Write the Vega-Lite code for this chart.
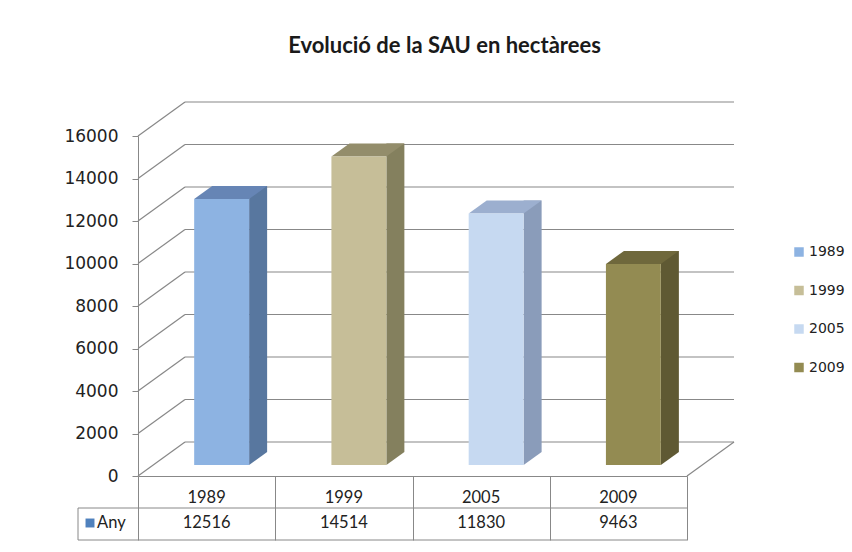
{
  "$schema": "https://vega.github.io/schema/vega-lite/v6.json",
  "width": 549,
  "height": 340,
  "autosize": {"type": "none"},
  "padding": {"left": 138, "top": 136, "right": 165, "bottom": 76},
  "background": "white",
  "config": {"view": {"stroke": null}, "font": "Lato"},
  "title": {"text": "Evolució de la SAU en hectàrees", "font": "Lato", "fontSize": 22, "fontWeight": "bold", "color": "#1a1a1a", "anchor": "middle", "dx": 32, "offset": 43},
  "datasets": {
    "sau": [
      {"year": "1989", "ha": 12516},
      {"year": "1999", "ha": 14514},
      {"year": "2005", "ha": 11830},
      {"year": "2009", "ha": 9463}
    ],
    "ticks": [
      {"v": 0}, {"v": 2000}, {"v": 4000}, {"v": 6000}, {"v": 8000},
      {"v": 10000}, {"v": 12000}, {"v": 14000}, {"v": 16000}
    ]
  },
  "resolve": {"scale": {"color": "independent"}},
  "layer": [
    {
      "data": {"name": "ticks"},
      "mark": {"type": "rule", "color": "#888888", "strokeWidth": 1.2, "xOffset": 47, "x2Offset": 47, "yOffset": -34, "y2Offset": -34},
      "encoding": {
        "x": {"datum": "1989", "type": "nominal", "bandPosition": 0},
        "x2": {"datum": "2009", "bandPosition": 1},
        "y": {
          "field": "v", "type": "quantitative",
          "scale": {"domain": [0, 16000], "nice": false, "zero": true},
          "axis": {"values": [0, 2000, 4000, 6000, 8000, 10000, 12000, 14000, 16000], "grid": false, "format": "d", "title": null, "domainColor": "#888888", "tickColor": "#888888", "tickSize": 6, "labelPadding": 14, "labelFont": "DejaVu Sans", "labelFontSize": 17, "labelColor": "#222222"}
        },
        "y2": {"field": "v"}
      }
    },
    {
      "data": {"name": "ticks"},
      "mark": {"type": "rule", "color": "#888888", "strokeWidth": 1.2, "x2Offset": 47, "y2Offset": -34},
      "encoding": {
        "x": {"datum": "1989", "type": "nominal", "bandPosition": 0},
        "x2": {"datum": "1989", "bandPosition": 0},
        "y": {"field": "v", "type": "quantitative"},
        "y2": {"field": "v"}
      }
    },
    {
      "data": {"name": "sau"},
      "transform": [{"filter": "datum.year == '2009'"}],
      "mark": {"type": "rule", "color": "#888888", "strokeWidth": 1.2, "x2Offset": 47, "y2Offset": -34},
      "encoding": {
        "x": {"datum": "2009", "type": "nominal", "bandPosition": 1},
        "x2": {"datum": "2009", "bandPosition": 1},
        "y": {"datum": 0, "type": "quantitative"},
        "y2": {"datum": 0}
      }
    },
    {
      "data": {"name": "sau"},
      "mark": {"type": "bar", "width": 18, "xOffset": 51.5, "yOffset": -24, "y2Offset": -24},
      "encoding": {
        "x": {
          "field": "year", "type": "nominal", "sort": null,
          "scale": {"paddingInner": 0, "paddingOuter": 0},
          "axis": {"title": null, "tickBand": "extent", "tickSize": 64, "labels": false, "domainColor": "#888888", "tickColor": "#888888"}
        },
        "y": {"field": "ha", "type": "quantitative"},
        "color": {"field": "year", "type": "nominal", "scale": {"domain": ["1989", "1999", "2005", "2009"], "range": ["#58779f", "#84805e", "#8a9cba", "#5f5933"]}, "legend": null}
      }
    },
    {
      "data": {"name": "sau"},
      "mark": {"type": "point", "shape": "M -1 -0.722 L -1 0.722 L 1 -0.722 Z", "size": 324, "filled": true, "opacity": 1, "strokeWidth": 0, "xOffset": 51.5, "yOffset": -17.5},
      "encoding": {
        "x": {"field": "year", "type": "nominal"},
        "y": {"datum": 0, "type": "quantitative"},
        "color": {"field": "year", "type": "nominal", "scale": {"domain": ["1989", "1999", "2005", "2009"], "range": ["#58779f", "#84805e", "#8a9cba", "#5f5933"]}, "legend": null}
      }
    },
    {
      "data": {"name": "sau"},
      "mark": {"type": "point", "shape": "M -1 0.178 L 0.506 0.178 L 1 -0.178 L -0.506 -0.178 Z", "size": 5314, "filled": true, "opacity": 1, "strokeWidth": 0, "xOffset": 24, "yOffset": -17.5},
      "encoding": {
        "x": {"field": "year", "type": "nominal"},
        "y": {"field": "ha", "type": "quantitative"},
        "color": {"field": "year", "type": "nominal", "scale": {"domain": ["1989", "1999", "2005", "2009"], "range": ["#6685b5", "#938d6b", "#9cafcf", "#6f683c"]}, "legend": null}
      }
    },
    {
      "data": {"name": "sau"},
      "mark": {"type": "bar", "width": {"band": 0.4}, "xOffset": 15, "yOffset": -11, "y2Offset": -11},
      "encoding": {
        "x": {"field": "year", "type": "nominal"},
        "y": {"field": "ha", "type": "quantitative"},
        "color": {
          "field": "year", "type": "nominal",
          "scale": {"domain": ["1989", "1999", "2005", "2009"], "range": ["#8db3e2", "#c6be98", "#c6d9f1", "#938b52"]},
          "legend": {"orient": "none", "legendX": 654, "legendY": 109, "padding": 0, "title": null, "symbolType": "square", "symbolSize": 90, "symbolStrokeWidth": 0, "labelFont": "DejaVu Sans", "labelFontSize": 14, "labelColor": "#222222", "rowPadding": 24.5, "labelOffset": 3}
        }
      }
    },
    {
      "data": {"name": "sau"},
      "mark": {"type": "text", "font": "Lato", "fontSize": 16.5, "color": "#222222", "yOffset": 22},
      "encoding": {
        "x": {"field": "year", "type": "nominal"},
        "y": {"datum": 0, "type": "quantitative"},
        "text": {"field": "year", "type": "nominal"}
      }
    },
    {
      "data": {"name": "sau"},
      "mark": {"type": "text", "font": "Lato", "fontSize": 16.5, "color": "#222222", "yOffset": 47},
      "encoding": {
        "x": {"field": "year", "type": "nominal"},
        "y": {"datum": 0, "type": "quantitative"},
        "text": {"field": "ha", "type": "quantitative", "format": "d"}
      }
    },
    {
      "data": {"name": "ticks"},
      "transform": [{"filter": "datum.v == 0"}],
      "mark": {"type": "rule", "color": "#888888", "strokeWidth": 1, "xOffset": -60, "yOffset": 32, "y2Offset": 32},
      "encoding": {
        "x": {"datum": "1989", "type": "nominal", "bandPosition": 0},
        "x2": {"datum": "2009", "bandPosition": 1},
        "y": {"datum": 0, "type": "quantitative"},
        "y2": {"datum": 0}
      }
    },
    {
      "data": {"name": "ticks"},
      "transform": [{"filter": "datum.v == 0"}],
      "mark": {"type": "rule", "color": "#888888", "strokeWidth": 1, "xOffset": -60, "yOffset": 64, "y2Offset": 64},
      "encoding": {
        "x": {"datum": "1989", "type": "nominal", "bandPosition": 0},
        "x2": {"datum": "2009", "bandPosition": 1},
        "y": {"datum": 0, "type": "quantitative"},
        "y2": {"datum": 0}
      }
    },
    {
      "data": {"name": "ticks"},
      "transform": [{"filter": "datum.v == 0"}],
      "mark": {"type": "rule", "color": "#888888", "strokeWidth": 1, "xOffset": -60, "yOffset": 32, "y2Offset": 64},
      "encoding": {
        "x": {"datum": "1989", "type": "nominal", "bandPosition": 0},
        "y": {"datum": 0, "type": "quantitative"},
        "y2": {"datum": 0}
      }
    },
    {
      "data": {"name": "ticks"},
      "transform": [{"filter": "datum.v == 0"}],
      "mark": {"type": "point", "shape": "square", "size": 80, "filled": true, "opacity": 1, "strokeWidth": 0, "color": "#4f81bd", "xOffset": -48, "yOffset": 47},
      "encoding": {
        "x": {"datum": "1989", "type": "nominal", "bandPosition": 0},
        "y": {"datum": 0, "type": "quantitative"}
      }
    },
    {
      "data": {"name": "ticks"},
      "transform": [{"filter": "datum.v == 0"}],
      "mark": {"type": "text", "font": "Lato", "fontSize": 16.5, "color": "#222222", "align": "left", "xOffset": -41, "yOffset": 47},
      "encoding": {
        "x": {"datum": "1989", "type": "nominal", "bandPosition": 0},
        "y": {"datum": 0, "type": "quantitative"},
        "text": {"value": "Any"}
      }
    }
  ]
}
